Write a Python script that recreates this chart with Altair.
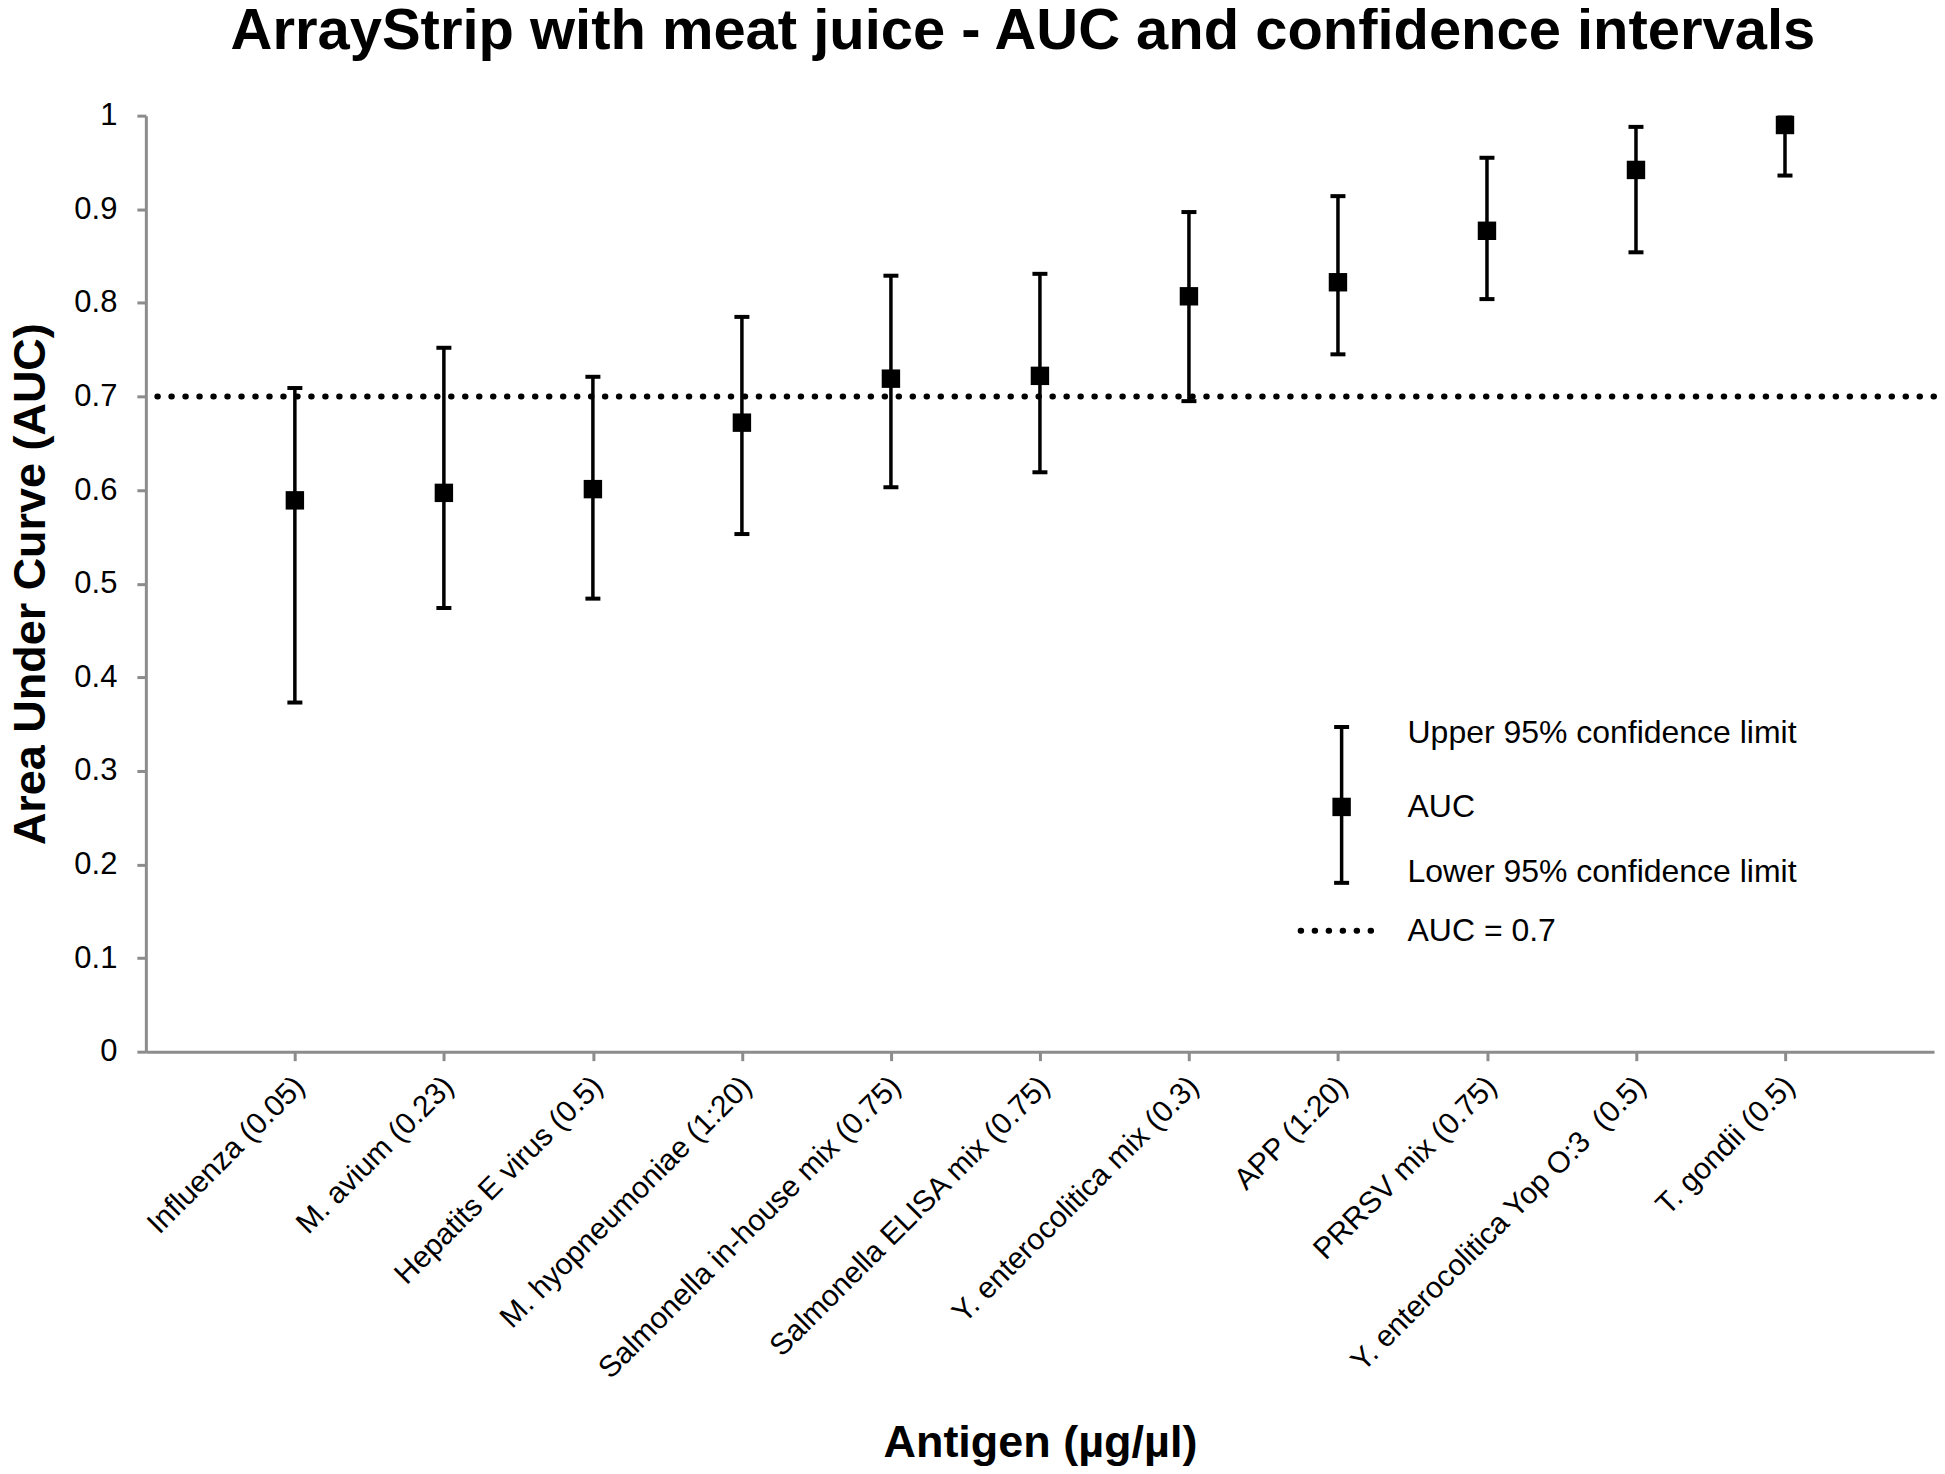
import altair as alt
import pandas as pd

# ---- data ----
antigens = [
    "Influenza (0.05)",
    "M. avium (0.23)",
    "Hepatits E virus (0.5)",
    "M. hyopneumoniae (1:20)",
    "Salmonella in-house mix (0.75)",
    "Salmonella ELISA mix (0.75)",
    "Y. enterocolitica mix (0.3)",
    "APP (1:20)",
    "PRRSV mix (0.75)",
    "Y. enterocolitica Yop O:3\u00a0 (0.5)",
    "T. gondii (0.5)",
]
auc = [0.589, 0.597, 0.601, 0.672, 0.719, 0.722, 0.807, 0.822, 0.877, 0.942, 0.990]
lower = [0.373, 0.474, 0.484, 0.553, 0.603, 0.619, 0.695, 0.745, 0.804, 0.854, 0.936]
upper = [0.709, 0.752, 0.721, 0.785, 0.829, 0.831, 0.897, 0.914, 0.955, 0.988, 0.998]
threshold = [0.7]
y_ticks = [0, 0.1, 0.2, 0.3, 0.4, 0.5, 0.6, 0.7, 0.8, 0.9, 1.0]
legend_labels = ["Upper 95% confidence limit", "AUC", "Lower 95% confidence limit", "AUC = 0.7"]

FONT = "Liberation Sans"
W, H = 1790, 937

df = pd.DataFrame({"antigen": antigens, "auc": auc, "lower": lower, "upper": upper})

x_enc = alt.X(
    "antigen:N",
    sort=antigens,
    scale=alt.Scale(type="point", padding=1),
    axis=alt.Axis(
        title="Antigen (µg/µl)",
        labelAngle=-45,
        labelFontSize=30,
        labelPadding=10,
        labelOffset=-6,
        labelLimit=2000,
        titleY=391,
        titleBaseline="middle",
    ),
)

YTITLE = "Area Under Curve (AUC)"
yscale = alt.Scale(domain=[0, 1], nice=False)
yaxis = alt.Axis(values=y_ticks, format=".1~f", labelPadding=20, titlePadding=20)


def yenc(field):
    return alt.Y(field, scale=yscale, axis=yaxis, title=YTITLE)


base = alt.Chart(df)

ref = alt.Chart(pd.DataFrame({"thr": threshold})).mark_rule(
    color="black", strokeWidth=6, strokeDash=[0.5, 13.5], strokeCap="round"
).encode(y=yenc("thr:Q"))

bars = base.mark_rule(color="black", strokeWidth=3.5).encode(
    x=x_enc, y=yenc("lower:Q"), y2="upper:Q"
)
cap_lo = base.mark_tick(color="black", thickness=4, size=15, opacity=1).encode(
    x=x_enc, y=yenc("lower:Q")
)
cap_hi = base.mark_tick(color="black", thickness=4, size=15, opacity=1).encode(
    x=x_enc, y=yenc("upper:Q")
)
pts = base.mark_square(color="black", size=340, opacity=1).encode(
    x=x_enc, y=yenc("auc:Q")
)

# ---- hand-made legend (pixel positions inside the plot area) ----
LX = 1197
one = lambda t: pd.DataFrame({"t": [t]})
leg_bar = alt.Chart(one("")).mark_rule(color="black", strokeWidth=3.5).encode(
    x=alt.value(LX), y=alt.value(612), y2=alt.value(768)
)
leg_cap1 = alt.Chart(one("")).mark_rule(color="black", strokeWidth=4).encode(
    x=alt.value(LX - 7.5), x2=alt.value(LX + 7.5), y=alt.value(612)
)
leg_cap2 = alt.Chart(one("")).mark_rule(color="black", strokeWidth=4).encode(
    x=alt.value(LX - 7.5), x2=alt.value(LX + 7.5), y=alt.value(768)
)
leg_sq = alt.Chart(one("")).mark_square(color="black", size=340, opacity=1).encode(
    x=alt.value(LX), y=alt.value(692)
)
leg_dot = alt.Chart(one("")).mark_rule(
    color="black", strokeWidth=6, strokeDash=[0.5, 13.5], strokeCap="round"
).encode(x=alt.value(1156), x2=alt.value(1230), y=alt.value(816))

text_y = [618, 692, 757, 816]
leg_texts = [
    alt.Chart(one(lbl)).mark_text(
        align="left", baseline="middle", font=FONT, fontSize=32, color="black"
    ).encode(text="t:N", x=alt.value(1263), y=alt.value(ty))
    for lbl, ty in zip(legend_labels, text_y)
]

chart = alt.layer(
    ref, bars, cap_lo, cap_hi, pts,
    leg_bar, leg_cap1, leg_cap2, leg_sq, leg_dot, *leg_texts
).properties(
    width=W,
    height=H,
    background="white",
    padding={"left": 0, "top": -6, "right": 0, "bottom": 0},
    title=alt.TitleParams(
        "ArrayStrip with meat juice - AUC and confidence intervals",
        font=FONT, fontSize=58, fontWeight="bold", color="black",
        anchor="middle", offset=39, dx=-17,
    ),
).configure_view(stroke=None).configure_axis(
    grid=False,
    domainColor="#8c8c8c", domainWidth=3,
    tickColor="#8c8c8c", tickWidth=3, tickSize=9,
    labelFont=FONT, labelFontSize=31, labelColor="black",
    titleFont=FONT, titleFontSize=45, titleFontWeight="bold", titleColor="black",
)

chart.save("out.html", embed_options={"renderer": "svg", "actions": False})
